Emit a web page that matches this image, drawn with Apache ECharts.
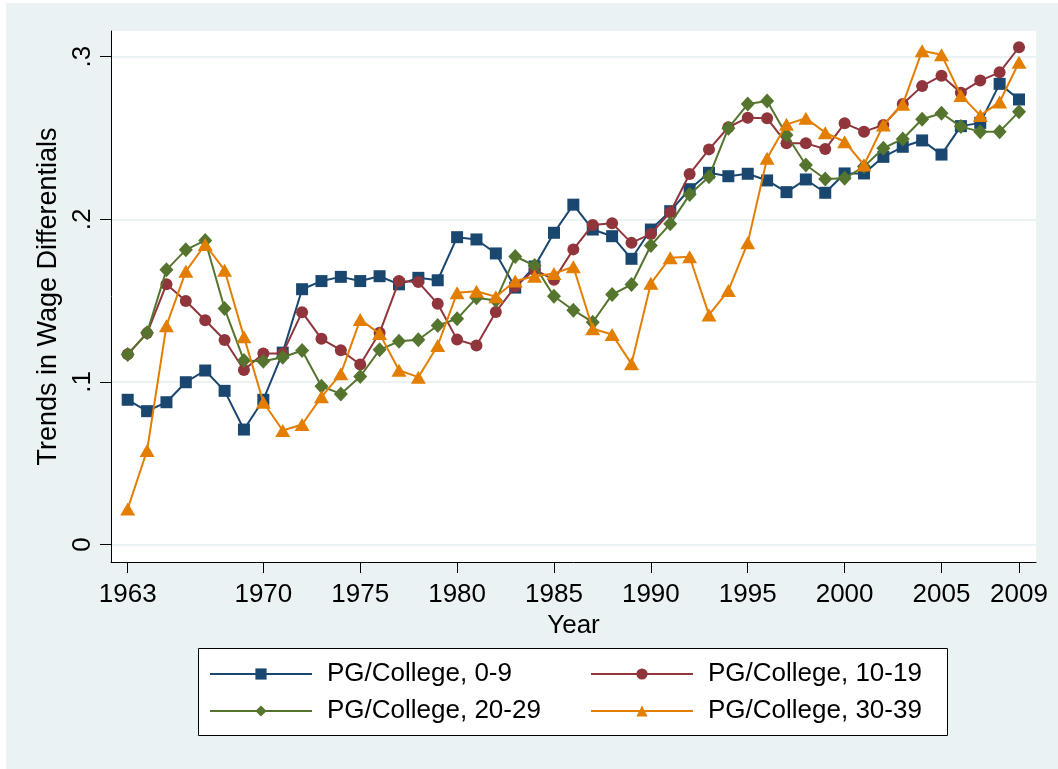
<!DOCTYPE html>
<html><head><meta charset="utf-8">
<script src="https://cdn.jsdelivr.net/npm/echarts@6/dist/echarts.min.js"></script>
<style>html,body{margin:0;padding:0;background:#fff;}#c{width:1058px;height:769px;}</style>
</head><body><div id="c"></div>
<script>
const years = [1963,1964,1965,1966,1967,1968,1969,1970,1971,1972,1973,1974,1975,1976,1977,1978,1979,1980,1981,1982,1983,1984,1985,1986,1987,1988,1989,1990,1991,1992,1993,1994,1995,1996,1997,1998,1999,2000,2001,2002,2003,2004,2005,2006,2007,2008,2009];
const pg0_9 = [0.089,0.082,0.0875,0.0998,0.107,0.0945,0.0707,0.089,0.118,0.157,0.162,0.1646,0.162,0.165,0.160,0.164,0.1625,0.189,0.1876,0.179,0.158,0.171,0.1917,0.209,0.1937,0.1896,0.1757,0.1937,0.205,0.2185,0.2286,0.2265,0.228,0.2239,0.2167,0.2245,0.2163,0.2282,0.2282,0.2384,0.2446,0.2485,0.2398,0.2573,0.2593,0.2833,0.2737];
const pg10_19 = [0.117,0.130,0.160,0.1497,0.1379,0.1258,0.1073,0.1175,0.1175,0.1429,0.1265,0.1195,0.1107,0.1302,0.162,0.1614,0.148,0.126,0.1224,0.143,0.1586,0.169,0.1628,0.1815,0.1965,0.1975,0.1855,0.191,0.2043,0.2279,0.243,0.2566,0.2625,0.2621,0.2467,0.2467,0.2432,0.259,0.2539,0.258,0.2709,0.2819,0.2883,0.2779,0.2853,0.2904,0.3058];
const pg20_29 = [0.1168,0.1302,0.1689,0.1812,0.187,0.1451,0.1131,0.1127,0.1152,0.1193,0.0973,0.0926,0.1033,0.1197,0.125,0.1259,0.1347,0.1388,0.1517,0.1501,0.1771,0.1716,0.1527,0.1441,0.1367,0.1537,0.1599,0.1839,0.1972,0.2152,0.2262,0.256,0.2709,0.2727,0.2518,0.2334,0.2248,0.2252,0.2324,0.2437,0.2494,0.2615,0.2652,0.257,0.2539,0.2539,0.2662];
const pg30_39 = [0.0219,0.0578,0.1346,0.168,0.1845,0.1687,0.1277,0.0875,0.0701,0.0738,0.0908,0.105,0.1383,0.1297,0.1072,0.1029,0.1224,0.1548,0.1558,0.1524,0.162,0.165,0.1667,0.1708,0.1327,0.1292,0.1111,0.1606,0.1764,0.177,0.1412,0.1562,0.1855,0.2375,0.2584,0.2621,0.2533,0.2477,0.2334,0.258,0.2707,0.3036,0.3012,0.2762,0.2639,0.2721,0.2966];
const seriesNames = ['PG/College, 0-9','PG/College, 10-19','PG/College, 20-29','PG/College, 30-39'];
const xTickYears = [1963,1970,1975,1980,1985,1990,1995,2000,2005,2009];
const yTicks = [0,0.1,0.2,0.3];

const valuesList = [pg0_9, pg10_19, pg20_29, pg30_39];
const colors = ['#1a476f','#90353b','#55752f','#e37e00'];
const symbols = ['rect','circle','diamond','triangle'];
const symbolSizes = [12, 12, [14,15], [15,13]];
const FF = '"Liberation Sans", Arial, Helvetica, sans-serif';

const chart = echarts.init(document.getElementById('c'), null, {renderer:'canvas'});
const option = {
  animation:false,
  backgroundColor:'#EAF2F3',
  textStyle:{fontFamily:FF},
  grid:{left:111, top:31, right:22, bottom:207, show:true, backgroundColor:'#fff', borderWidth:0, containLabel:false, outerBoundsMode:'none'},
  xAxis:{
    type:'value', min:1962.138, max:2009.877,
    axisLine:{show:true, onZero:false, lineStyle:{color:'#000', width:1}},
    axisTick:{show:true, length:11, customValues:xTickYears, lineStyle:{color:'#000', width:1}},
    axisLabel:{customValues:xTickYears, margin:20, fontSize:26, color:'#000', fontFamily:FF, formatter:v=>String(v)},
    splitLine:{show:false},
    name:'Year', nameLocation:'middle', nameGap:41,
    nameTextStyle:{fontSize:26, color:'#000', fontFamily:FF}
  },
  yAxis:{
    type:'value', min:-0.01076, max:0.3158,
    axisLine:{show:true, onZero:false, lineStyle:{color:'#000', width:1}},
    axisTick:{show:true, length:11, customValues:yTicks, lineStyle:{color:'#000', width:1}},
    axisLabel:{customValues:yTicks, rotate:90, margin:15, fontSize:26, color:'#000', fontFamily:FF,
      formatter:v=>{ if (Math.abs(v)<1e-9) return '0'; return '.' + Math.round(v*10); }},
    splitLine:{show:true, lineStyle:{color:'#EAF2F3', width:2}},
    name:'Trends in Wage Differentials', nameLocation:'middle', nameRotate:90, nameGap:41,
    nameTextStyle:{fontSize:27, color:'#000', fontFamily:FF}
  },
  legend: seriesNames.map((n,i)=>({
    data:[n], left:[209,590][i%2], top:[659,696][Math.floor(i/2)],
    orient:'horizontal', itemWidth:102, itemHeight:14, padding:0, selectedMode:false,
    textStyle:{fontSize:26, color:'#000', fontFamily:FF, padding:[0,0,0,10], lineHeight:30}
  })),
  graphic:[
    {type:'rect', shape:{x:0,y:0,width:1058,height:3}, style:{fill:'#fff'}, silent:true},
    {type:'rect', shape:{x:0,y:0,width:6,height:769}, style:{fill:'#fff'}, silent:true},
    {type:'rect', shape:{x:198.5,y:648.5,width:749,height:87}, style:{fill:'#fff', stroke:'#000', lineWidth:1}, silent:true, z:1}
  ],
  series: seriesNames.map((n,i)=>({
    name:n, type:'line',
    data: years.map((y,k)=>[y, valuesList[i][k]]),
    symbol:symbols[i], symbolSize:symbolSizes[i],
    lineStyle:{width:2, color:colors[i]},
    itemStyle:{color:colors[i]},
    emphasis:{disabled:true},
    z:2+i
  }))
};
chart.setOption(option);
</script>
</body></html>
